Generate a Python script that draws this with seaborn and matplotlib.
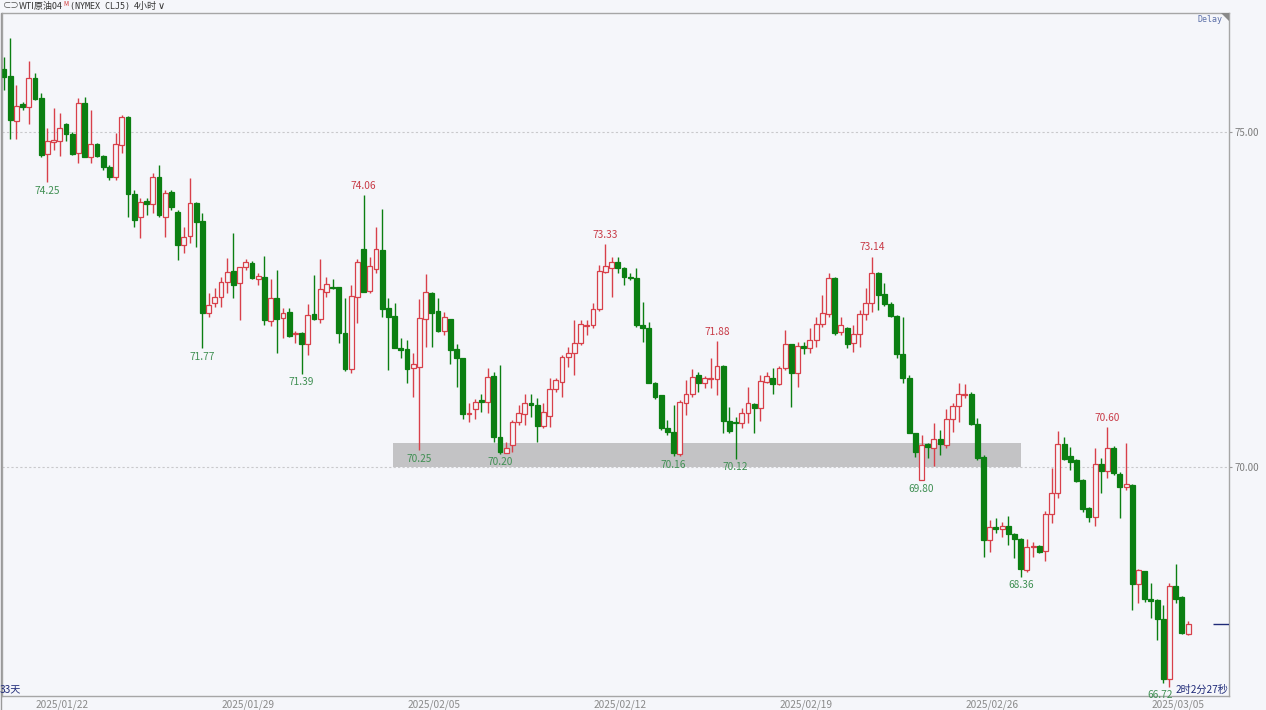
import numpy as np
import matplotlib
matplotlib.use("Agg")
import matplotlib.pyplot as plt
import seaborn as sns
from matplotlib.patches import Rectangle, Polygon
from matplotlib.lines import Line2D

# ---------------- data (4-hour bars, WTI CLJ5) ----------------
opens = [75.94, 75.84, 75.16, 75.42, 75.37, 75.81, 75.51, 74.67, 74.85, 74.87,
         75.12, 74.97, 74.69, 75.43, 74.63, 74.82, 74.64, 74.48, 74.33, 74.81,
         75.22, 74.07, 73.73, 73.97, 73.93, 74.33, 73.73, 74.10, 73.81, 73.31,
         73.45, 73.94, 73.67, 72.30, 72.45, 72.54, 72.76, 72.93, 72.75, 72.99,
         73.04, 72.81, 72.84, 72.18, 72.52, 72.22, 72.31, 71.99, 72.00, 71.84,
         72.28, 72.21, 72.61, 72.69, 72.69, 72.00, 71.46, 72.54, 73.25, 72.63,
         72.96, 73.24, 72.37, 72.25, 71.78, 71.76, 71.48, 71.49, 72.21, 72.60,
         72.33, 72.03, 72.21, 71.76, 71.63, 70.79, 70.87, 71.00, 70.97, 71.36,
         70.45, 70.21, 70.33, 70.67, 70.79, 70.96, 70.93, 70.61, 70.76, 71.16,
         71.27, 71.64, 71.70, 71.85, 72.10, 72.12, 72.36, 72.91, 72.97, 73.06,
         72.97, 72.84, 72.82, 72.12, 72.07, 71.25, 71.07, 70.58, 70.52, 70.19,
         70.96, 71.09, 71.37, 71.25, 71.31, 71.31, 71.51, 70.69, 70.67, 70.66,
         70.81, 70.94, 70.88, 71.27, 71.33, 71.24, 71.48, 71.84, 71.40, 71.81,
         71.78, 71.90, 72.13, 72.28, 72.82, 72.01, 72.07, 71.85, 71.99, 72.28,
         72.45, 72.90, 72.58, 72.43, 72.25, 71.69, 71.33, 70.51, 69.81, 70.34,
         70.28, 70.42, 70.33, 70.72, 70.91, 71.07, 71.09, 70.64, 70.15, 68.91,
         69.10, 69.07, 69.12, 69.00, 68.93, 68.46, 68.81, 68.82, 68.75, 69.30,
         69.61, 70.34, 70.16, 70.10, 69.81, 69.39, 69.25, 70.04, 69.94, 70.28,
         69.90, 69.70, 69.73, 68.25, 68.45, 68.03, 68.01, 67.73, 66.84, 68.22,
         68.06, 67.51]
highs = [76.12, 76.40, 75.70, 75.45, 76.06, 75.88, 75.58, 75.06, 75.36, 75.28,
         75.13, 75.00, 75.51, 75.52, 75.33, 74.84, 74.65, 74.51, 74.99, 75.25,
         75.24, 74.13, 74.01, 74.01, 74.39, 74.51, 74.13, 74.13, 73.84, 73.58,
         74.31, 73.96, 73.79, 72.60, 72.67, 72.84, 73.12, 73.49, 72.99, 73.10,
         73.07, 72.90, 73.15, 72.81, 72.94, 72.37, 72.37, 72.03, 72.01, 72.43,
         72.87, 73.10, 72.84, 72.81, 72.69, 72.52, 72.72, 73.10, 74.06, 73.13,
         73.58, 73.85, 72.52, 72.45, 71.93, 71.90, 71.70, 72.51, 72.88, 72.61,
         72.52, 72.31, 72.21, 71.84, 71.63, 70.96, 71.01, 71.09, 71.48, 71.42,
         71.52, 70.37, 70.70, 70.93, 71.09, 71.09, 71.03, 70.96, 71.33, 71.33,
         71.67, 71.79, 72.19, 72.19, 72.19, 72.45, 73.01, 73.33, 73.13, 73.13,
         72.99, 72.90, 72.97, 72.46, 72.16, 71.27, 71.07, 70.70, 70.93, 71.00,
         71.30, 71.46, 71.42, 71.36, 71.63, 71.88, 71.52, 70.90, 70.75, 70.88,
         71.19, 70.96, 71.37, 71.42, 71.48, 71.51, 72.04, 71.84, 71.87, 71.87,
         72.07, 72.24, 72.57, 72.90, 72.84, 72.24, 72.09, 72.12, 72.34, 72.67,
         73.14, 72.91, 72.75, 72.46, 72.27, 72.24, 71.37, 70.51, 70.48, 70.36,
         70.66, 70.55, 70.87, 70.96, 71.25, 71.24, 71.12, 70.73, 70.18, 69.21,
         69.24, 69.18, 69.27, 69.01, 68.94, 68.93, 68.88, 68.84, 69.34, 69.99,
         70.54, 70.45, 70.30, 70.12, 69.82, 69.40, 70.28, 70.13, 70.60, 70.31,
         69.93, 70.36, 69.75, 68.48, 68.45, 68.27, 68.03, 67.94, 68.27, 68.55,
         68.07, 67.70]
lows = [75.63, 74.90, 74.90, 75.33, 75.12, 75.48, 74.63, 74.25, 74.73, 74.64,
        74.87, 74.66, 74.54, 74.62, 74.54, 74.63, 74.43, 74.28, 74.28, 74.69,
        73.73, 73.58, 73.42, 73.76, 73.79, 73.73, 73.43, 73.84, 73.09, 73.19,
        73.34, 73.28, 71.77, 72.24, 72.39, 72.39, 72.60, 72.52, 72.19, 72.94,
        72.81, 72.72, 72.12, 72.10, 71.70, 71.93, 71.94, 71.85, 71.39, 71.67,
        72.20, 72.15, 72.54, 72.66, 71.85, 71.43, 71.40, 72.15, 72.61, 72.60,
        72.90, 72.24, 71.45, 71.78, 71.63, 71.25, 71.04, 70.25, 71.79, 71.79,
        72.01, 71.97, 71.54, 71.19, 70.72, 70.67, 70.72, 70.82, 70.81, 70.37,
        70.20, 70.21, 70.22, 70.63, 70.63, 70.75, 70.37, 70.58, 70.60, 71.12,
        71.04, 71.49, 71.37, 71.82, 71.97, 72.07, 72.33, 72.90, 72.54, 72.90,
        72.72, 72.79, 72.09, 71.87, 71.25, 71.01, 70.55, 70.48, 70.16, 70.17,
        70.78, 71.04, 71.12, 71.18, 71.18, 71.07, 70.51, 70.51, 70.12, 70.58,
        70.66, 70.51, 70.69, 71.25, 71.09, 71.22, 71.45, 70.90, 71.19, 71.69,
        71.70, 71.79, 72.09, 72.24, 71.97, 71.97, 71.78, 71.72, 71.79, 72.19,
        72.31, 72.34, 72.40, 72.24, 71.63, 71.25, 70.51, 70.15, 69.80, 70.13,
        70.01, 70.18, 70.28, 70.52, 70.67, 71.03, 70.63, 70.10, 68.66, 68.73,
        69.01, 68.96, 68.84, 68.64, 68.36, 68.43, 68.66, 68.72, 68.60, 69.16,
        69.54, 70.10, 69.96, 69.78, 69.33, 69.18, 69.12, 69.61, 69.84, 69.88,
        69.24, 69.66, 67.87, 67.97, 67.99, 67.75, 67.42, 66.78, 66.72, 67.97,
        67.51, 67.49]
closes = [75.82, 75.18, 75.39, 75.37, 75.81, 75.49, 74.66, 74.87, 74.88, 75.06,
          74.97, 74.67, 75.43, 74.63, 74.82, 74.64, 74.48, 74.33, 74.82, 75.22,
          74.07, 73.69, 73.96, 73.93, 74.33, 73.76, 74.09, 73.88, 73.31, 73.43,
          73.94, 73.66, 72.30, 72.42, 72.54, 72.76, 72.91, 72.72, 72.99, 73.06,
          72.82, 72.85, 72.19, 72.52, 72.21, 72.30, 71.96, 72.00, 71.84, 72.27,
          72.21, 72.66, 72.73, 72.67, 72.00, 71.46, 72.55, 73.06, 72.61, 73.00,
          73.25, 72.36, 72.24, 71.78, 71.75, 71.46, 71.54, 72.22, 72.61, 72.30,
          72.03, 72.24, 71.75, 71.63, 70.79, 70.81, 70.97, 70.97, 71.34, 70.45,
          70.22, 70.28, 70.67, 70.81, 70.96, 70.93, 70.61, 70.82, 71.16, 71.30,
          71.64, 71.70, 71.85, 72.13, 72.12, 72.36, 72.93, 73.00, 73.06, 72.97,
          72.84, 72.82, 72.12, 72.07, 71.25, 71.04, 70.58, 70.52, 70.21, 70.97,
          71.09, 71.34, 71.25, 71.33, 71.33, 71.51, 70.69, 70.54, 70.66, 70.81,
          70.96, 70.88, 71.28, 71.36, 71.24, 71.48, 71.84, 71.40, 71.81, 71.78,
          71.90, 72.13, 72.30, 72.82, 72.00, 72.12, 71.84, 71.99, 72.28, 72.45,
          72.90, 72.57, 72.43, 72.25, 71.69, 71.33, 70.51, 70.22, 70.33, 70.30,
          70.42, 70.34, 70.72, 70.91, 71.09, 71.09, 70.64, 70.13, 68.91, 69.10,
          69.07, 69.12, 69.00, 68.93, 68.48, 68.81, 68.82, 68.73, 69.30, 69.61,
          70.34, 70.12, 70.07, 69.79, 69.37, 69.25, 70.04, 69.94, 70.28, 69.91,
          69.70, 69.75, 68.25, 68.46, 68.03, 68.00, 67.73, 66.84, 68.22, 68.03,
          67.52, 67.66]

date_labels = ["2025/01/22", "2025/01/29", "2025/02/05", "2025/02/12",
               "2025/02/19", "2025/02/26", "2025/03/05"]
date_pos = [9.35, 39.35, 69.35, 99.35, 129.35, 159.35, 189.35]

# marked extremes: bar index, value, kind
mark_idx = [7, 32, 48, 58, 67, 80, 97, 108, 115, 118, 140, 148, 164, 178, 188]
mark_val = [74.25, 71.77, 71.39, 74.06, 70.25, 70.20, 73.33, 70.16, 71.88, 70.12,
            73.14, 69.80, 68.36, 70.60, 66.72]
mark_kind = ["lo", "lo", "lo", "hi", "lo", "lo", "hi", "lo", "hi", "lo",
             "hi", "lo", "lo", "hi", "lo"]

zone_x = [62.7, 164.0]
zone_y = [70.00, 70.36]
last_price = 67.66
y_ticks = [70.0, 75.0]

# ---------------- style ----------------
BG = "#f5f6fa"
GREEN = "#0b7f12"
RED = "#d8404a"
LBL_GREEN = "#3f8f52"
LBL_RED = "#c83a46"
NAVY = "#1f2a78"

sns.set_theme(style="white")
plt.rcParams["font.family"] = ["Noto Sans CJK SC", "DejaVu Sans"]

W, H = 1266, 710
fig = plt.figure(figsize=(W / 100, H / 100), dpi=100, facecolor=BG)
ax = fig.add_axes([2 / W, 1 - 696 / H, (1229 - 2) / W, (696 - 13) / H])
ax.set_facecolor(BG)

o = np.array(opens); h = np.array(highs); l = np.array(lows); c = np.array(closes)
n = len(o)
x = np.arange(n)
up = c >= o
edge = np.where(up, RED, GREEN)
face = np.where(up, BG, GREEN)
bottom = np.minimum(o, c)
height = np.maximum(np.abs(c - o), 0.012)

# zone
ax.add_patch(Rectangle((zone_x[0], zone_y[0]), zone_x[1] - zone_x[0],
                       zone_y[1] - zone_y[0], facecolor="#c3c3c5",
                       edgecolor="none", zorder=1))

# grid
for yv in y_ticks:
    ax.axhline(yv, color="#c9c9cc", lw=0.8, ls=(0, (2, 2)), zorder=0.5)

ax.vlines(x, l, h, colors=edge, lw=1.0, zorder=2)
ax.bar(x, height, bottom=bottom, width=0.78, color=face, edgecolor=edge,
       linewidth=0.9, zorder=3)

last_i = len(mark_idx) - 1
for j, (i, v, k) in enumerate(zip(mark_idx, mark_val, mark_kind)):
    if k == "hi":
        ax.annotate(f"{v:.2f}", (i, v), xytext=(0, 3), textcoords="offset points",
                    ha="center", va="bottom", fontsize=7.3, color=LBL_RED, zorder=5)
    else:
        dx = -7 if j == last_i else 0
        ax.annotate(f"{v:.2f}", (i, v), xytext=(dx, -2.5), textcoords="offset points",
                    ha="center", va="top", fontsize=7.3, color=LBL_GREEN, zorder=5)

# last price marker
ax.hlines(last_price, 195.0, 197.6, colors=NAVY, lw=1.0, zorder=4)

ax.set_xlim(-0.32, 197.6)
ax.set_ylim(66.582, 76.776)

ax.set_xticks(date_pos)
ax.set_xticklabels(date_labels)
ax.tick_params(axis="x", length=0, pad=2.5, labelsize=7.3, labelcolor="#8a8a8a")
ax.yaxis.tick_right()
ax.set_yticks(y_ticks)
ax.set_yticklabels([f"{v:.2f}" for v in y_ticks])
ax.tick_params(axis="y", right=True, length=2, width=0.8, color="#9a9a9a",
               pad=2, labelsize=7, labelcolor="#7d7d7d")
for s in ax.spines.values():
    s.set_color("#a6a6a6")
    s.set_linewidth(1.0)

# ---------------- header / decorations ----------------
def px(xp, yp):
    return xp / W, 1 - yp / H

fig.text(*px(3, 6), "⊂⊃", fontsize=6, color="#555555", ha="left", va="center")
fig.text(*px(19, 6), "WTI原油04", fontsize=6.5, color="#333333", ha="left", va="center")
fig.text(*px(63, 3.5), "M", fontsize=4.5, color="#d03030", ha="left", va="center")
fig.text(*px(70, 6), "(NYMEX CLJ5)", fontsize=6, color="#333333", ha="left", va="center",
         family="DejaVu Sans Mono")
fig.text(*px(134, 6), "4小时", fontsize=6.5, color="#333333", ha="left", va="center")
fig.text(*px(158, 6), "∨", fontsize=7, color="#333333", ha="left", va="center",
         family="DejaVu Sans")

fig.text(*px(1210, 20), "Delay", fontsize=6, color="#5b6fa8", ha="center", va="center",
         family="DejaVu Sans Mono")
fig.patches.append(Polygon([px(1221, 13), px(1229, 13), px(1229, 21)], closed=True,
                           transform=fig.transFigure, facecolor="#8a8a8a",
                           edgecolor="none", figure=fig))

fig.text(*px(0, 689), "33天", fontsize=7.3, color=NAVY, ha="left", va="center")
fig.text(*px(1228, 690), "2时2分27秒", fontsize=7.3, color=NAVY, ha="right", va="center",
         zorder=10)

fig.lines.append(Line2D([1 / W, 1 / W], [0, 1 - 13 / H], transform=fig.transFigure,
                        color="#9a9a9a", lw=1.0, figure=fig))

fig.savefig("out.png", dpi=100, facecolor=BG)
